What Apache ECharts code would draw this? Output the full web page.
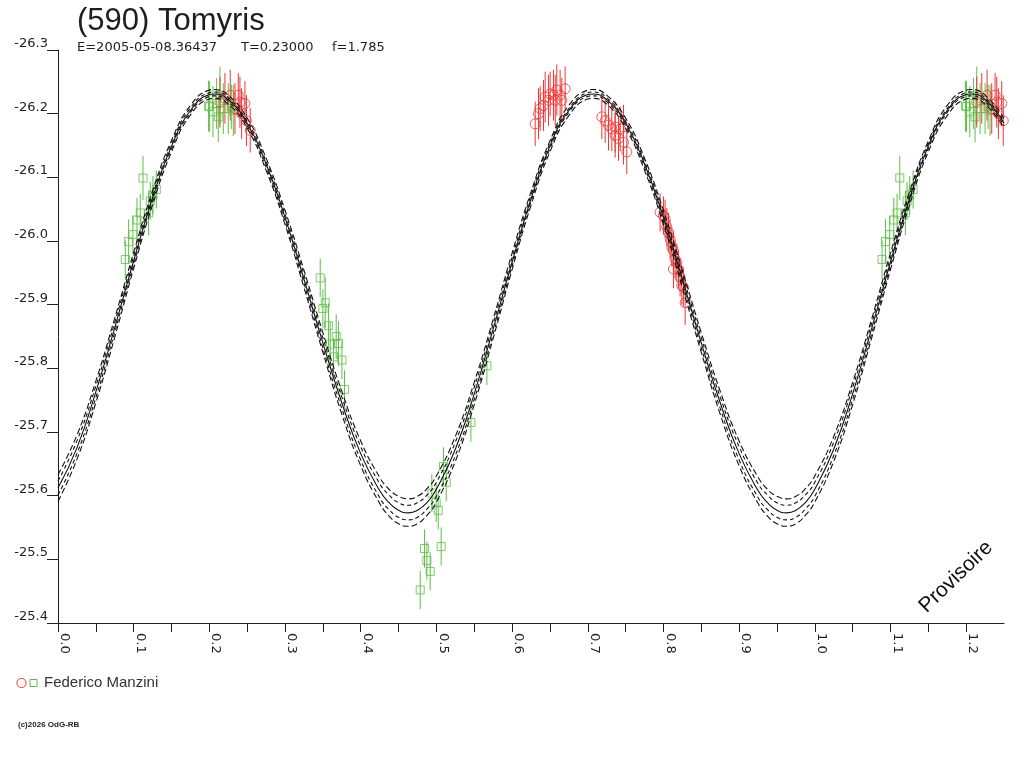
<!DOCTYPE html>
<html>
<head>
<meta charset="utf-8">
<script src="https://cdn.jsdelivr.net/npm/echarts@6/dist/echarts.min.js"></script>
<style>
html,body{margin:0;padding:0;background:#fff;}
#chart{width:1024px;height:768px;}
</style>
</head>
<body>
<div id="chart"></div>
<script>
// ---- Data ----
const TITLE = '(590) Tomyris';
const SUB_E = 'E=2005-05-08.36437';
const SUB_T = 'T=0.23000';
const SUB_F = 'f=1.785';
const OBSERVER = 'Federico Manzini';

const X_MIN = 0, X_MAX = 1.25;
const Y_MIN = -26.3, Y_MAX = -25.4;

// Phases at which the fitted curves were read
const curvePhase = [0,0.025,0.05,0.075,0.1,0.125,0.15,0.175,0.2,0.206,
  0.225,0.25,0.275,0.3,0.325,0.35,0.375,0.4,0.425,
  0.4375,0.45,0.463,0.475,0.4875,
  0.5,0.525,0.55,0.575,0.6,0.625,0.65,0.675,0.7,0.706,
  0.725,0.75,0.775,0.8,0.825,0.85,0.875,0.9,0.925,
  0.9375,0.95,0.963,0.975,0.9875,
  1.0,1.025,1.05,1.075,1.1,1.125,1.15,1.175,1.2,1.206,1.225,1.25];

// Central (solid) fit
const curveMid = [-25.612,-25.675,-25.763,-25.864,-25.969,-26.068,-26.149,-26.205,-26.230,-26.231,
  -26.222,-26.185,-26.121,-26.037,-25.940,-25.840,-25.746,-25.666,-25.608,
  -25.589,-25.577,-25.573,-25.577,-25.589,
  -25.610,-25.673,-25.760,-25.862,-25.967,-26.066,-26.149,-26.205,-26.230,-26.231,
  -26.222,-26.185,-26.121,-26.037,-25.940,-25.840,-25.746,-25.666,-25.608,
  -25.589,-25.577,-25.573,-25.577,-25.589,
  -25.610,-25.673,-25.760,-25.862,-25.967,-26.066,-26.149,-26.205,-26.230,-26.231,-26.222,-26.185];
// Outer upper dashed
const curveOuterHi = [-25.633,-25.695,-25.780,-25.879,-25.982,-26.079,-26.158,-26.213,-26.237,-26.238,
  -26.229,-26.193,-26.130,-26.048,-25.954,-25.856,-25.764,-25.686,-25.629,
  -25.610,-25.599,-25.595,-25.599,-25.611,
  -25.631,-25.693,-25.778,-25.877,-25.981,-26.077,-26.157,-26.213,-26.237,-26.238,
  -26.229,-26.193,-26.130,-26.048,-25.954,-25.856,-25.764,-25.686,-25.629,
  -25.610,-25.599,-25.595,-25.599,-25.611,
  -25.631,-25.693,-25.778,-25.877,-25.981,-26.077,-26.157,-26.213,-26.237,-26.238,-26.229,-26.193];
// Inner upper dashed
const curveInnerHi = [-25.623,-25.686,-25.772,-25.872,-25.976,-26.073,-26.153,-26.209,-26.233,-26.234,
  -26.225,-26.188,-26.125,-26.042,-25.947,-25.848,-25.755,-25.677,-25.619,
  -25.601,-25.589,-25.585,-25.589,-25.601,
  -25.621,-25.684,-25.770,-25.870,-25.974,-26.072,-26.153,-26.208,-26.233,-26.234,
  -26.225,-26.188,-26.125,-26.042,-25.947,-25.848,-25.755,-25.677,-25.619,
  -25.601,-25.589,-25.585,-25.589,-25.601,
  -25.621,-25.684,-25.770,-25.870,-25.974,-26.072,-26.153,-26.208,-26.233,-26.234,-26.225,-26.188];
// Inner lower dashed
const curveInnerLo = [-25.601,-25.666,-25.754,-25.857,-25.963,-26.063,-26.145,-26.202,-26.227,-26.228,
  -26.219,-26.181,-26.116,-26.031,-25.934,-25.832,-25.737,-25.656,-25.597,
  -25.578,-25.566,-25.562,-25.566,-25.579,
  -25.599,-25.663,-25.751,-25.854,-25.961,-26.062,-26.145,-26.202,-26.227,-26.228,
  -26.219,-26.181,-26.116,-26.031,-25.934,-25.832,-25.737,-25.656,-25.597,
  -25.578,-25.566,-25.562,-25.566,-25.579,
  -25.599,-25.663,-25.751,-25.854,-25.961,-26.062,-26.145,-26.202,-26.227,-26.228,-26.219,-26.181];
// Outer lower dashed
const curveOuterLo = [-25.591,-25.657,-25.746,-25.849,-25.957,-26.057,-26.140,-26.198,-26.223,-26.224,
  -26.215,-26.177,-26.111,-26.026,-25.927,-25.825,-25.728,-25.647,-25.588,
  -25.568,-25.556,-25.552,-25.556,-25.569,
  -25.590,-25.654,-25.743,-25.847,-25.955,-26.056,-26.140,-26.197,-26.223,-26.224,
  -26.215,-26.177,-26.111,-26.026,-25.927,-25.825,-25.728,-25.647,-25.588,
  -25.568,-25.556,-25.552,-25.556,-25.569,
  -25.590,-25.654,-25.743,-25.847,-25.955,-26.056,-26.140,-26.197,-26.223,-26.224,-26.215,-26.177];

// Observations [phase, magnitude, error]
const redPoints = [
 [0.214,-26.218,0.04],[0.2206,-26.224,0.04],[0.2276,-26.229,0.04],[0.2338,-26.208,0.04],[0.2382,-26.229,0.035],
 [0.2404,-26.218,0.04],[0.2426,-26.200,0.04],[0.247,-26.216,0.035],[0.249,-26.189,0.04],[0.254,-26.174,0.035],
 [0.6305,-26.184,0.035],[0.6349,-26.200,0.04],[0.6371,-26.208,0.035],[0.6415,-26.213,0.04],[0.6437,-26.226,0.04],
 [0.6481,-26.221,0.04],[0.6503,-26.231,0.035],[0.6547,-26.229,0.04],[0.657,-26.221,0.04],[0.6591,-26.237,0.04],
 [0.6635,-26.229,0.04],[0.6657,-26.221,0.035],[0.6701,-26.239,0.035],
 [0.7186,-26.195,0.035],[0.723,-26.189,0.035],[0.7274,-26.182,0.04],[0.7318,-26.176,0.035],[0.7362,-26.179,0.04],
 [0.7362,-26.166,0.035],[0.7406,-26.161,0.035],[0.7428,-26.176,0.035],[0.7472,-26.179,0.035],[0.7472,-26.155,0.035],
 [0.7516,-26.140,0.035],
 [0.7956,-26.045,0.03],[0.8,-26.040,0.03],[0.8022,-26.035,0.03],[0.8045,-26.022,0.03],[0.8066,-26.014,0.03],
 [0.8088,-26.003,0.03],[0.8111,-25.990,0.03],[0.8132,-25.985,0.03],[0.8132,-25.956,0.03],[0.8154,-25.972,0.03],
 [0.8177,-25.966,0.03],[0.8198,-25.956,0.03],[0.822,-25.943,0.03],[0.8243,-25.930,0.03],[0.8264,-25.927,0.03],
 [0.8287,-25.903,0.035]
];
const greenPoints = [
 [0.0889,-25.971,0.03],[0.0933,-25.999,0.035],[0.099,-26.010,0.03],[0.1044,-26.033,0.035],[0.1087,-26.044,0.03],
 [0.1123,-26.099,0.035],[0.1197,-26.044,0.035],[0.1219,-26.063,0.03],[0.1255,-26.072,0.03],[0.1299,-26.081,0.03],
 [0.199,-26.212,0.04],[0.2004,-26.211,0.04],[0.2048,-26.203,0.04],[0.2096,-26.216,0.04],[0.2118,-26.195,0.04],
 [0.214,-26.229,0.045],[0.2184,-26.208,0.04],[0.225,-26.208,0.04],[0.229,-26.211,0.035],[0.2316,-26.205,0.04],
 [0.3465,-25.942,0.03],[0.3500,-25.894,0.03],[0.3531,-25.903,0.04],[0.3575,-25.867,0.035],[0.3597,-25.838,0.035],
 [0.3641,-25.818,0.03],[0.3676,-25.850,0.035],[0.3707,-25.839,0.035],[0.3752,-25.813,0.03],[0.3786,-25.767,0.03],
 [0.4786,-25.452,0.03],[0.4843,-25.517,0.03],[0.4874,-25.498,0.03],[0.4918,-25.481,0.03],[0.494,-25.604,0.03],
 [0.4997,-25.589,0.03],[0.5024,-25.577,0.03],[0.5063,-25.520,0.03],[0.5094,-25.646,0.03],[0.513,-25.621,0.03],
 [0.5456,-25.715,0.03],[0.5667,-25.804,0.03]
];

const RED = '#ef3535';
const GREEN = '#5cbf46';
const INK = '#1e1e1e';

// Phase plot repeats the first quarter after phase 1
function withRepeat(points) {
  return points.concat(points.filter(p => p[0] <= 0.25).map(p => [p[0] + 1, p[1], p[2]]));
}

function curveSeries(values, dash) {
  return {
    type: 'line',
    data: curvePhase.map((p, i) => [p, values[i]]),
    smooth: 0.5,
    showSymbol: false,
    symbol: 'none',
    silent: true,
    clip: true,
    z: 5,
    lineStyle: { color: '#111', width: 1.1, type: dash }
  };
}

function errorSeries(points, color) {
  return {
    type: 'custom',
    data: withRepeat(points),
    clip: true,
    silent: true,
    z: 3,
    renderItem: function (params, api) {
      const x = api.value(0), y = api.value(1), e = api.value(2);
      const a = api.coord([x, y - e]);
      const b = api.coord([x, y + e]);
      return {
        type: 'line',
        shape: { x1: a[0], y1: a[1], x2: b[0], y2: b[1] },
        style: { stroke: color, lineWidth: 1 }
      };
    }
  };
}

function pointSeries(points, color, symbol, size) {
  return {
    type: 'scatter',
    data: withRepeat(points).map(p => [p[0], p[1]]),
    symbol: symbol,
    symbolSize: size,
    clip: true,
    silent: true,
    z: 4,
    itemStyle: { color: 'rgba(0,0,0,0)', borderColor: color, borderWidth: 1 }
  };
}

const chart = echarts.init(document.getElementById('chart'), null, { renderer: 'canvas' });
chart.setOption({
  animation: false,
  backgroundColor: '#ffffff',
  title: {
    text: TITLE,
    left: 77,
    top: 6,
    padding: 0,
    textStyle: { fontFamily: 'Liberation Sans', fontSize: 31, fontWeight: 'normal', color: INK }
  },
  grid: { left: 58, right: 20, top: 50, bottom: 145, containLabel: false },
  xAxis: {
    type: 'value',
    min: X_MIN,
    max: X_MAX,
    interval: 0.05,
    axisLine: { show: true, onZero: false, lineStyle: { color: INK, width: 1 } },
    axisTick: { show: true, length: 9, lineStyle: { color: INK, width: 1 } },
    splitLine: { show: false },
    axisLabel: {
      show: true,
      rotate: -90,
      margin: 10,
      verticalAlign: 'bottom',
      fontFamily: 'DejaVu Sans',
      fontSize: 13,
      color: INK,
      showMaxLabel: false,
      formatter: function (v) {
        const k = Math.round(v * 20);
        return (k % 2 === 0) ? (k / 20).toFixed(1) : '';
      }
    }
  },
  yAxis: {
    type: 'value',
    inverse: true,
    min: Y_MIN,
    max: Y_MAX,
    interval: 0.1,
    axisLine: { show: true, onZero: false, lineStyle: { color: INK, width: 1 } },
    axisTick: { show: true, length: 11, lineStyle: { color: INK, width: 1 } },
    splitLine: { show: false },
    axisLabel: {
      show: true,
      margin: 10,
      verticalAlign: 'bottom',
      fontFamily: 'DejaVu Sans',
      fontSize: 13,
      color: INK,
      formatter: function (v) { return v.toFixed(1); }
    }
  },
  graphic: [
    { type: 'text', x: 77, y: 48, style: { text: SUB_E, fontFamily: 'DejaVu Sans', fontSize: 13, fill: INK, textVerticalAlign: 'middle' } },
    { type: 'text', x: 241, y: 48, style: { text: SUB_T, fontFamily: 'DejaVu Sans', fontSize: 13, fill: INK, textVerticalAlign: 'middle' } },
    { type: 'text', x: 332, y: 48, style: { text: SUB_F, fontFamily: 'DejaVu Sans', fontSize: 13, fill: INK, textVerticalAlign: 'middle' } },
    { type: 'circle', shape: { cx: 21.5, cy: 683, r: 4.6 }, style: { fill: 'none', stroke: RED, lineWidth: 1 } },
    { type: 'rect', shape: { x: 30, y: 679.5, width: 7, height: 7 }, style: { fill: 'none', stroke: GREEN, lineWidth: 1 } },
    { type: 'text', x: 44, y: 683, style: { text: OBSERVER, fontFamily: 'Liberation Sans', fontSize: 15, fill: '#333', textVerticalAlign: 'middle' } },
    { type: 'text', x: 18, y: 725, style: { text: '(c)2026 OdG-RB', fontFamily: 'Liberation Sans', fontSize: 8, fontWeight: 'bold', fill: INK, textVerticalAlign: 'middle' } },
    { type: 'text', x: 956, y: 577, rotation: 44 * Math.PI / 180, style: { text: 'Provisoire', fontFamily: 'Liberation Sans', fontSize: 21, fill: '#111', textAlign: 'center', textVerticalAlign: 'middle' } }
  ],
  series: [
    errorSeries(greenPoints, GREEN),
    errorSeries(redPoints, RED),
    pointSeries(greenPoints, GREEN, 'rect', 8),
    pointSeries(redPoints, RED, 'circle', 10),
    curveSeries(curveOuterHi, [6, 3]),
    curveSeries(curveInnerHi, [4, 3]),
    curveSeries(curveMid, 'solid'),
    curveSeries(curveInnerLo, [4, 3]),
    curveSeries(curveOuterLo, [6, 3])
  ]
});
</script>
</body>
</html>
